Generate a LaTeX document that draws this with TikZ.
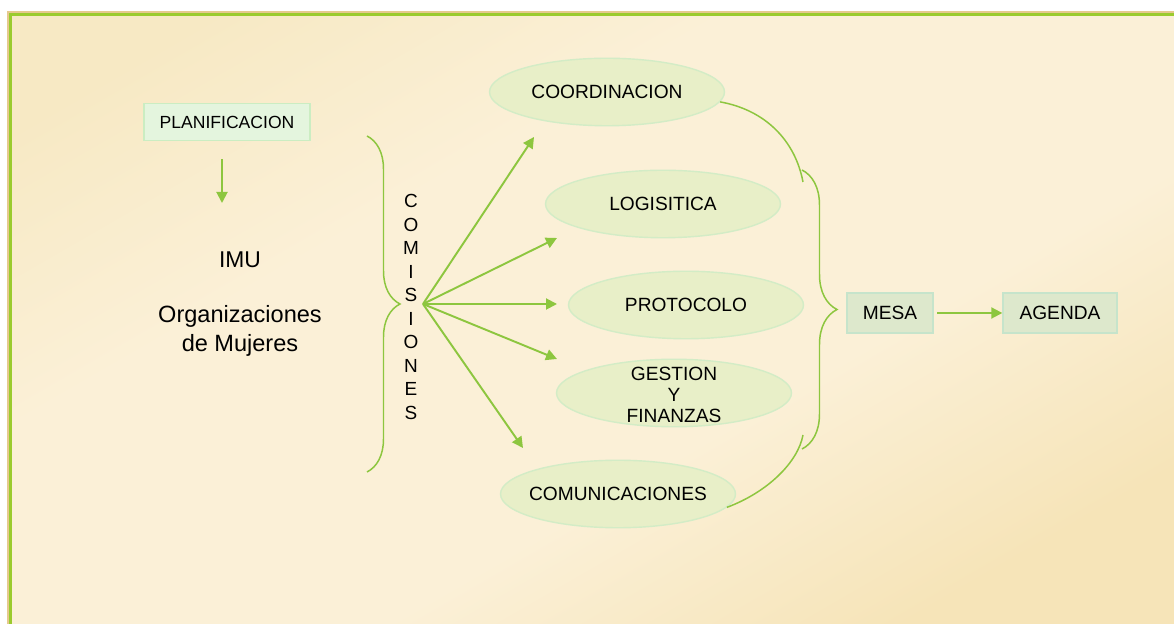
\documentclass[tikz,border=0pt]{standalone}
\usepackage{fontspec}
\setmainfont{Liberation Sans}
\usetikzlibrary{arrows.meta,decorations.pathreplacing,shapes.geometric}

\definecolor{verde}{HTML}{8DC63F}
\definecolor{marco}{HTML}{9BCB2E}
\definecolor{borde}{HTML}{E6C98E}
\definecolor{fondoA}{HTML}{F7E9C4}
\definecolor{fondoB}{HTML}{FBF0D7}
\definecolor{fondoC}{HTML}{F6E4B8}
\definecolor{elfondo}{HTML}{E8EFC8}
\definecolor{elborde}{HTML}{D3ECC6}
\definecolor{planfondo}{HTML}{E4F5DE}
\definecolor{planborde}{HTML}{CBEDC2}
\definecolor{cajafondo}{HTML}{DDE8CC}
\definecolor{cajaborde}{HTML}{C6E4CB}

\pgfdeclarehorizontalshading{fondo}{100bp}{color(0bp)=(fondoA); color(22bp)=(fondoA);
  color(38bp)=(fondoB); color(60bp)=(fondoB); color(76bp)=(fondoC); color(100bp)=(fondoC)}

\begin{document}
\begin{tikzpicture}[x=0.02cm,y=0.02cm,
    flecha/.style={-{Triangle[length=2.2mm,width=2.2mm]},verde,line width=1.1pt},
    llave/.style={verde,line width=0.85pt},
    caja/.style={rectangle,draw=cajaborde,fill=cajafondo,line width=0.8pt,
                 minimum height=0.8cm,inner sep=0pt,font=\fontsize{10.9}{13}\selectfont},
    comision/.style={ellipse,draw=elborde,fill=elfondo,line width=0.8pt,
                 minimum width=4.7cm,minimum height=1.35cm,inner sep=0pt},
    every label/.style={font=\fontsize{10.9}{11.8}\selectfont,align=center}]

  \useasboundingbox (0,0) rectangle (1174,-624);

  % fondo y marco
  \shade[shading=fondo,shading angle=-60] (9,-13) rectangle (1174,-624);
  \draw[borde,line width=0.9pt] (8,-624) -- (8,-12) -- (1174,-12);
  \draw[marco,line width=1.7pt] (10.5,-624) -- (10.5,-14.3) -- (1174,-14.3);

  % izquierda
  \node[rectangle,draw=planborde,fill=planfondo,line width=0.8pt,minimum width=3.32cm,
        minimum height=0.74cm,inner sep=0pt,font=\fontsize{10}{12}\selectfont]
        (plan) at (227,-122) {PLANIFICACION};
  \coordinate (imuarriba) at (222,-203);
  \draw[flecha] (imuarriba |- plan.south) ++(0,-18) -- (imuarriba);

  \node[font=\fontsize{13}{15}\selectfont] (imu) at (240,-260) {IMU};
  \node[font=\fontsize{13.4}{16.2}\selectfont,align=center] (org) at (240,-331)
        {Organizaciones\\de Mujeres};

  \draw[llave,decorate,decoration={brace,amplitude=0.66cm}] (367,-136) -- (367,-472);
  \node[font=\fontsize{10.8}{13.4}\selectfont,align=center,inner sep=0pt] (comis) at (411,-307)
        {C\\O\\M\\I\\S\\I\\O\\N\\E\\S};

  % comisiones
  \node[comision,label=center:COORDINACION] (coord) at (607,-92) {};
  \node[comision,label=center:LOGISITICA] (logi) at (663,-204) {};
  \node[comision,label=center:PROTOCOLO] (proto) at (686,-305) {};
  \node[comision,label={[yshift=-1pt]center:GESTION\\Y\\FINANZAS}] (gest) at (674,-393) {};
  \node[comision,label=center:COMUNICACIONES] (comu) at (618,-494) {};

  \coordinate (abanico) at (423,-304);
  \coordinate (t1) at (534,-137);
  \coordinate (t2) at (557,-238);
  \coordinate (t3) at (557,-304);
  \coordinate (t4) at (557,-359);
  \coordinate (t5) at (523,-448);

  \path (abanico) edge[flecha] (t1)
                  edge[flecha] (t2)
                  edge[flecha] (t3)
                  edge[flecha] (t4)
                  edge[flecha] (t5);

  % derecha
  \coordinate (b1) at (803,-182);
  \coordinate (b2) at (803,-435);
  \draw[llave] (coord.-5) .. controls (765,-110) and (795,-140) .. (b1);
  \draw[llave] (comu.-7) .. controls (768,-492) and (798,-462) .. (b2);
  \draw[llave,decorate,decoration={brace,amplitude=0.7cm}] (802,-170) -- (802,-449);

  \node[caja,minimum width=1.72cm] (mesa) at (890,-313) {MESA};
  \node[caja,minimum width=2.28cm] (agenda) at (1060,-313) {AGENDA};
  \draw[flecha,shorten <=2pt] (mesa) -- (agenda);
\end{tikzpicture}
\end{document}
